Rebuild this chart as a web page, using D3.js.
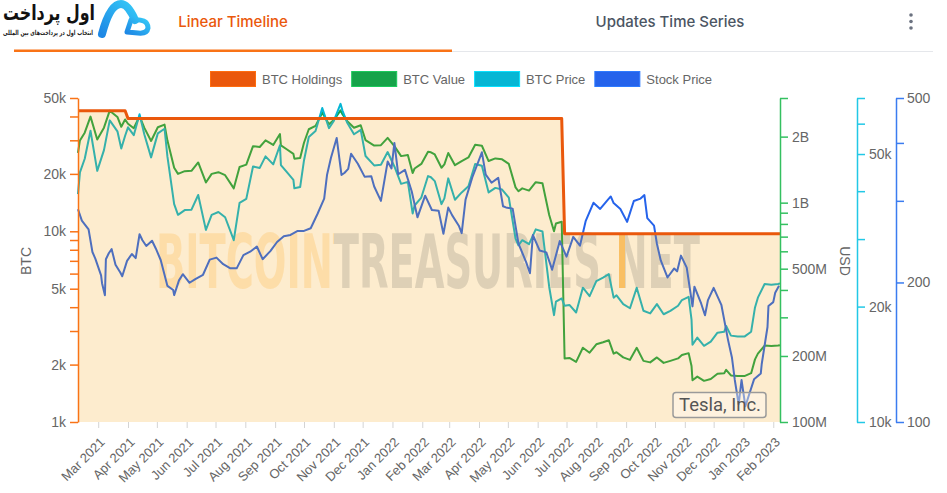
<!DOCTYPE html>
<html>
<head>
<meta charset="utf-8">
<script src="https://cdn.jsdelivr.net/npm/d3@7"></script>
<style>
body { margin: 0; background: #fff; }
svg { display: block; font-family: "Liberation Sans", Arial, sans-serif; }
</style>
</head>
<body>
<script>
// ---- data ----
var holdingsDates = ["2021-02-08", "2021-03-29", "2021-04-01", "2022-06-26", "2022-06-29", "2023-02-08"];
var holdings = [42902, 42902, 39000, 39000, 9720, 9720];

var btcDates = ["2021-02-08","2021-02-10","2021-02-15","2021-02-21","2021-02-28","2021-03-07","2021-03-13","2021-03-21","2021-03-25","2021-03-29",
  "2021-04-01","2021-04-07","2021-04-13","2021-04-18","2021-04-25","2021-05-02","2021-05-09","2021-05-12","2021-05-19","2021-05-23",
  "2021-05-30","2021-06-06","2021-06-13","2021-06-21","2021-06-27","2021-07-04","2021-07-11","2021-07-20","2021-07-26","2021-08-02",
  "2021-08-09","2021-08-16","2021-08-22","2021-08-30","2021-09-06","2021-09-07","2021-09-13","2021-09-20","2021-09-21","2021-09-27",
  "2021-10-01","2021-10-06","2021-10-13","2021-10-20","2021-10-27","2021-11-01","2021-11-08","2021-11-10","2021-11-15","2021-11-22",
  "2021-11-29","2021-12-04","2021-12-13","2021-12-20","2021-12-27","2022-01-03","2022-01-10","2022-01-17","2022-01-22","2022-01-24",
  "2022-01-31","2022-02-07","2022-02-10","2022-02-14","2022-02-21","2022-02-24","2022-02-28","2022-03-07","2022-03-14","2022-03-21",
  "2022-03-28","2022-04-04","2022-04-11","2022-04-18","2022-04-25","2022-05-02","2022-05-09","2022-05-12","2022-05-16","2022-05-23",
  "2022-05-30","2022-06-06","2022-06-13","2022-06-18","2022-06-20","2022-06-26","2022-06-29","2022-07-04","2022-07-11","2022-07-18",
  "2022-07-25","2022-08-01","2022-08-08","2022-08-14","2022-08-19","2022-08-22","2022-08-29","2022-09-05","2022-09-12","2022-09-19",
  "2022-09-26","2022-10-03","2022-10-10","2022-10-17","2022-10-25","2022-10-29","2022-11-05","2022-11-08","2022-11-09","2022-11-14",
  "2022-11-21","2022-11-28","2022-12-05","2022-12-12","2022-12-14","2022-12-19","2022-12-26","2023-01-02","2023-01-09","2023-01-13",
  "2023-01-16","2023-01-23","2023-01-30","2023-02-06","2023-02-08"];

var btcPrice = [39300,44800,48600,57500,45200,51200,61200,57300,51700,55800,
  58700,56000,63500,56200,49000,56600,58200,49200,37000,34700,
  35700,35800,39100,31700,34700,35300,34200,29800,37300,38200,
  46400,46000,49300,47000,52700,46800,44900,42800,40700,41000,
  48100,55400,57400,65900,58400,61000,67600,64900,60300,56300,
  57800,49400,46700,46900,50600,46400,41800,42300,35000,36700,
  38500,43800,43500,42500,37000,38300,43200,38000,39700,41200,
  47100,46600,39700,40800,40400,38500,30100,28900,29800,29100,
  31800,31400,22500,19000,20600,21000,20100,20200,19300,22400,
  21300,23300,23800,24300,21100,21400,20300,19800,22400,19500,
  19200,20300,19100,19500,20100,20800,21200,18500,15900,16600,
  15800,16200,17100,17200,17800,16800,16700,16700,17200,19900,
  21100,22900,22800,22900,23000];

// BTC Value in USD millions
var btcValue = [1686,1922,2085,2467,1939,2197,2626,2458,2218,2394,
  2289,2184,2477,2192,1911,2207,2270,1919,1443,1353,
  1392,1396,1525,1236,1353,1377,1334,1162,1455,1490,
  1810,1794,1923,1833,2055,1825,1751,1669,1587,1599,
  1876,2161,2239,2570,2278,2379,2636,2531,2352,2196,
  2254,1927,1821,1829,1973,1810,1630,1650,1365,1431,
  1502,1708,1697,1658,1443,1494,1685,1482,1548,1607,
  1837,1817,1548,1591,1576,1502,1174,1127,1162,1135,
  1240,1225,878,741,803,819,195,196,188,218,
  207,226,231,236,205,208,197,192,218,190,
  187,197,186,190,195,202,206,180,155,161,
  154,157,166,167,173,163,162,162,167,193,
  205,223,222,223,224];

var stockDates = ["2021-02-08","2021-02-12","2021-02-19","2021-02-23","2021-02-26","2021-03-04","2021-03-05","2021-03-08","2021-03-09","2021-03-12",
  "2021-03-15","2021-03-19","2021-03-24","2021-03-26","2021-03-31","2021-04-05","2021-04-09","2021-04-13","2021-04-16","2021-04-20",
  "2021-04-26","2021-04-30","2021-05-05","2021-05-12","2021-05-18","2021-05-19","2021-05-24","2021-05-28","2021-06-04","2021-06-10",
  "2021-06-18","2021-06-25","2021-07-02","2021-07-09","2021-07-16","2021-07-23","2021-07-30","2021-08-06","2021-08-13","2021-08-19",
  "2021-08-27","2021-09-03","2021-09-10","2021-09-17","2021-09-24","2021-10-01","2021-10-08","2021-10-15","2021-10-22","2021-10-25",
  "2021-10-29","2021-11-04","2021-11-09","2021-11-12","2021-11-16","2021-11-19","2021-11-26","2021-12-03","2021-12-10","2021-12-13",
  "2021-12-20","2021-12-27","2021-12-31","2022-01-03","2022-01-07","2022-01-14","2022-01-21","2022-01-27","2022-02-04","2022-02-11",
  "2022-02-18","2022-02-23","2022-02-28","2022-03-04","2022-03-11","2022-03-14","2022-03-18","2022-03-25","2022-04-04","2022-04-08",
  "2022-04-14","2022-04-21","2022-04-26","2022-04-29","2022-05-06","2022-05-12","2022-05-20","2022-05-24","2022-05-27","2022-06-03",
  "2022-06-10","2022-06-16","2022-06-24","2022-07-01","2022-07-08","2022-07-15","2022-07-21","2022-07-29","2022-08-05","2022-08-12",
  "2022-08-16","2022-08-19","2022-08-26","2022-09-02","2022-09-09","2022-09-16","2022-09-20","2022-09-23","2022-09-30","2022-10-03",
  "2022-10-07","2022-10-14","2022-10-21","2022-10-24","2022-10-28","2022-11-03","2022-11-09","2022-11-11","2022-11-18","2022-11-22",
  "2022-11-25","2022-12-01","2022-12-09","2022-12-16","2022-12-20","2022-12-23","2022-12-27","2022-12-30","2023-01-03","2023-01-06",
  "2023-01-12","2023-01-19","2023-01-20","2023-01-26","2023-01-27","2023-02-01","2023-02-03","2023-02-07"];

var stockPrice = [287.7,272.0,260.3,232.7,225.2,207.1,199.3,187.7,224.5,231.2,
  236.0,218.3,210.1,206.2,222.6,230.4,225.7,254.1,246.6,239.7,
  246.1,236.5,223.6,196.6,192.6,187.8,202.1,208.4,199.7,203.4,
  207.8,224.0,226.3,219.0,214.7,214.5,229.1,233.0,239.1,224.5,
  233.7,244.5,251.6,253.2,258.1,258.4,261.8,281.0,303.2,341.6,
  371.3,410.0,341.2,344.5,351.6,379.0,360.6,338.3,339.0,322.1,
  300.0,364.6,352.3,399.9,342.3,349.9,314.6,276.4,307.8,286.7,
  285.7,254.7,290.1,279.4,265.1,255.5,301.8,336.9,381.8,341.8,
  328.3,336.3,292.1,290.3,288.6,242.7,221.3,209.4,253.2,234.5,
  232.2,213.1,245.7,227.3,250.8,240.1,271.7,297.1,288.2,300.0,
  306.6,296.7,288.1,270.2,299.7,303.4,308.7,275.3,265.3,242.4,
  223.1,205.0,214.4,211.3,228.5,215.3,177.6,195.9,180.2,169.9,
  182.9,194.7,179.0,150.2,137.8,123.2,109.1,123.2,108.1,113.1,
  123.6,127.2,133.4,160.3,177.9,181.4,190.0,196.8];

var legendLabels = ["BTC Holdings", "BTC Value", "BTC Price", "Stock Price"];
var legendColors = ["#ea580c", "#16a34a", "#06b6d4", "#2563eb"];

// ---- chart ----
var width = 947, height = 493;
var plot = {left: 78, right: 780, top: 98, bottom: 422};

var svg = d3.select("body").append("svg")
    .attr("width", width)
    .attr("height", height);

var parse = d3.timeParse("%Y-%m-%d");

var holdingsData = holdingsDates.map(function(d, i) { return {date: parse(d), v: holdings[i]}; });
var priceData = btcDates.map(function(d, i) { return {date: parse(d), v: btcPrice[i]}; });
var valueData = btcDates.map(function(d, i) { return {date: parse(d), v: btcValue[i] * 1e6}; });
var stockData = stockDates.map(function(d, i) { return {date: parse(d), v: stockPrice[i]}; });

var x = d3.scaleTime()
    .domain([parse("2021-02-08"), parse("2023-02-08")])
    .range([plot.left, plot.right]);
var yBtc = d3.scaleLog().domain([1e3, 5e4]).range([plot.bottom, plot.top]);
var yValue = d3.scaleLog().domain([1e8, 3e9]).range([plot.bottom, plot.top]);
var yPrice = d3.scaleLog().domain([1e4, 7e4]).range([plot.bottom, plot.top]);
var yStock = d3.scaleLog().domain([100, 500]).range([plot.bottom, plot.top]);

var defs = svg.append("defs");

// header
var header = svg.append("g");
header.append("line")
    .attr("x1", 14).attr("x2", 933).attr("y1", 51.5).attr("y2", 51.5)
    .attr("stroke", "#e5e7eb").attr("stroke-width", 1);
header.append("rect")
    .attr("x", 14).attr("y", 49.5).attr("width", 438).attr("height", 2.5)
    .attr("fill", "#f97316");
header.append("text")
    .attr("x", 233).attr("y", 27)
    .attr("text-anchor", "middle")
    .style("font-family", "Inter, 'Noto Sans', sans-serif")
    .style("font-size", "15px").style("font-weight", 500)
    .attr("fill", "#ea580c")
    .text("Linear Timeline");
header.append("text")
    .attr("x", 670).attr("y", 27)
    .attr("text-anchor", "middle")
    .style("font-family", "Inter, 'Noto Sans', sans-serif")
    .style("font-size", "15px").style("font-weight", 500)
    .attr("fill", "#4b5563")
    .text("Updates Time Series");
[15, 21.5, 28].forEach(function(cy) {
  header.append("circle").attr("cx", 911).attr("cy", cy).attr("r", 1.8).attr("fill", "#6b7280");
});

// logo
var grad = defs.append("linearGradient").attr("id", "logoGrad")
    .attr("x1", "0%").attr("y1", "100%").attr("x2", "100%").attr("y2", "0%");
grad.append("stop").attr("offset", "0%").attr("stop-color", "#1e88e5");
grad.append("stop").attr("offset", "100%").attr("stop-color", "#35c8f7");
var logo = svg.append("g");
logo.append("text")
    .attr("x", 3).attr("y", 20)
    .attr("textLength", 92).attr("lengthAdjust", "spacingAndGlyphs")
    .style("font-family", "'DejaVu Sans', sans-serif")
    .style("font-size", "21px").style("font-weight", "bold")
    .attr("fill", "#111")
    .text("اول پرداخت");
logo.append("text")
    .attr("x", 3).attr("y", 35)
    .attr("textLength", 90).attr("lengthAdjust", "spacingAndGlyphs")
    .style("font-family", "'DejaVu Sans', sans-serif")
    .style("font-size", "7px").style("font-weight", "bold")
    .attr("fill", "#222")
    .text("انتخاب اول در پرداخت‌های بین المللی");
logo.append("path")
    .attr("d", "M102,34 Q110,4 121,4 Q128,4 135,20")
    .attr("fill", "none").attr("stroke", "url(#logoGrad)")
    .attr("stroke-width", 8).attr("stroke-linecap", "round");
logo.append("path")
    .attr("d", "M127,32 L131,20 Q148,18 148,28 Q147,34 138,33 Z")
    .attr("fill", "none").attr("stroke", "url(#logoGrad)")
    .attr("stroke-width", 5).attr("stroke-linejoin", "round");

// legend
var legend = svg.append("g");
var lx = 210;
legendLabels.forEach(function(label, i) {
  legend.append("rect")
      .attr("x", lx + 0.5).attr("y", 71.5).attr("width", 45).attr("height", 15)
      .attr("fill", legendColors[i])
      .attr("stroke", d3.color(legendColors[i]).brighter(0.6))
      .attr("stroke-width", 1);
  var t = legend.append("text")
      .attr("x", lx + 52).attr("y", 83.5)
      .style("font-size", "13px")
      .attr("fill", "#666")
      .text(label);
  lx += 52 + t.node().getComputedTextLength() + 9;
});

// watermark: one text, parts coloured through hard gradient stops
var wmGrad = defs.append("linearGradient").attr("id", "wmGrad")
    .attr("gradientUnits", "userSpaceOnUse")
    .attr("x1", 156).attr("x2", 700).attr("y1", 0).attr("y2", 0);
[[0, "#ffedd0"], [0.327, "#ffedd0"], [0.327, "#d9dde2"], [0.843, "#d9dde2"],
 [0.843, "#fbc77a"], [0.862, "#fbc77a"], [0.862, "#d9dde2"], [1, "#d9dde2"]]
  .forEach(function(s) {
    wmGrad.append("stop").attr("offset", s[0]).attr("stop-color", s[1]);
  });
svg.append("text")
    .attr("x", 156).attr("y", 288)
    .attr("textLength", 544).attr("lengthAdjust", "spacingAndGlyphs")
    .style("font-family", "'DejaVu Sans Condensed', 'DejaVu Sans', sans-serif")
    .style("font-weight", "bold")
    .style("font-size", "74px")
    .attr("fill", "url(#wmGrad)")
    .text("BITCOINTREASURIES.NET");

// series lines
function lineFor(scale) {
  return d3.line()
      .x(function(d) { return x(d.date); })
      .y(function(d) { return scale(d.v); });
}

svg.append("path").datum(valueData)
    .attr("d", lineFor(yValue))
    .attr("fill", "none").attr("stroke", "#16a34a").attr("stroke-width", 2)
    .attr("stroke-linejoin", "round");
svg.append("path").datum(priceData)
    .attr("d", lineFor(yPrice))
    .attr("fill", "none").attr("stroke", "#06b6d4").attr("stroke-width", 2)
    .attr("stroke-linejoin", "round");
svg.append("path").datum(stockData)
    .attr("d", lineFor(yStock))
    .attr("fill", "none").attr("stroke", "#2563eb").attr("stroke-width", 2)
    .attr("stroke-linejoin", "round");

// holdings area, then its line
var area = d3.area()
    .x(function(d) { return x(d.date); })
    .y0(plot.bottom)
    .y1(function(d) { return yBtc(d.v); });
svg.append("path").datum(holdingsData)
    .attr("d", area)
    .attr("fill", "rgba(245,158,11,0.2)");
svg.append("path").datum(holdingsData)
    .attr("d", lineFor(yBtc))
    .attr("fill", "none").attr("stroke", "#ea580c").attr("stroke-width", 3)
    .attr("stroke-linejoin", "round");

// axes
function fmtK(d) { return d >= 1000 ? (d / 1000) + "k" : String(d); }
function fmtUsd(d) { return d >= 1e9 ? (d / 1e9) + "B" : (d / 1e6) + "M"; }
function shown(d) {
  var lead = +String(d).charAt(0);
  return lead === 1 || lead === 2 || lead === 5;
}

function styleAxis(g, color) {
  g.select(".domain").attr("stroke", color).attr("stroke-width", 1.5);
  g.selectAll(".tick line").attr("stroke", color).attr("stroke-width", 1.5);
  g.selectAll(".tick text").attr("fill", "#666").style("font-size", "14px")
      .style("font-family", "'Liberation Sans', Arial, sans-serif");
}

var axLeft = svg.append("g")
    .attr("transform", "translate(" + plot.left + ",0)")
    .call(d3.axisLeft(yBtc).tickValues(yBtc.ticks())
        .tickFormat(function(d) { return shown(d) ? fmtK(d) : ""; })
        .tickSize(8).tickSizeOuter(0).tickPadding(4));
styleAxis(axLeft, "#f97316");

var axValue = svg.append("g")
    .attr("transform", "translate(" + plot.right + ",0)")
    .call(d3.axisRight(yValue).tickValues(yValue.ticks())
        .tickFormat(function(d) { return shown(d) ? fmtUsd(d) : ""; })
        .tickSize(8).tickSizeOuter(0).tickPadding(4));
styleAxis(axValue, "#34c060");

var axPrice = svg.append("g")
    .attr("transform", "translate(857,0)")
    .call(d3.axisRight(yPrice).tickValues(yPrice.ticks())
        .tickFormat(function(d) { return shown(d) ? fmtK(d) : ""; })
        .tickSize(8).tickSizeOuter(0).tickPadding(4));
styleAxis(axPrice, "#22c8e6");

var axStock = svg.append("g")
    .attr("transform", "translate(896,0)")
    .call(d3.axisRight(yStock).tickValues(yStock.ticks())
        .tickFormat(function(d) { return shown(d) ? String(d) : ""; })
        .tickSize(8).tickSizeOuter(0).tickPadding(3));
styleAxis(axStock, "#3b7cf0");

var axX = svg.append("g")
    .attr("transform", "translate(0," + plot.bottom + ")")
    .call(d3.axisBottom(x)
        .ticks(d3.timeMonth.every(1))
        .tickFormat(d3.timeFormat("%b %Y"))
        .tickSize(6).tickSizeOuter(0));
axX.select(".domain").remove();
axX.selectAll(".tick line").attr("stroke", "#d4d4d4");
axX.selectAll(".tick text")
    .attr("fill", "#666").style("font-size", "13px")
    .attr("text-anchor", "end")
    .attr("x", 0).attr("y", 0).attr("dy", "0")
    .attr("transform", "translate(7,21) rotate(-45)");

// axis titles
svg.append("text")
    .attr("transform", "translate(31,261) rotate(-90)")
    .attr("text-anchor", "middle")
    .style("font-size", "14px").attr("fill", "#666")
    .text("BTC");
svg.append("text")
    .attr("transform", "translate(840,261) rotate(90)")
    .attr("text-anchor", "middle")
    .style("font-size", "14px").attr("fill", "#666")
    .text("USD");

// company tag
var tag = svg.append("g");
tag.append("rect")
    .attr("x", 673).attr("y", 392.5).attr("width", 93).attr("height", 25).attr("rx", 3)
    .attr("fill", "rgba(255,255,255,0.35)")
    .attr("stroke", "#9a9a9a").attr("stroke-width", 1.5);
tag.append("text")
    .attr("x", 679).attr("y", 411)
    .attr("textLength", 82).attr("lengthAdjust", "spacingAndGlyphs")
    .style("font-family", "Roboto, 'Noto Sans', sans-serif")
    .style("font-size", "19px")
    .attr("fill", "#555")
    .text("Tesla, Inc.");
</script>
</body>
</html>
